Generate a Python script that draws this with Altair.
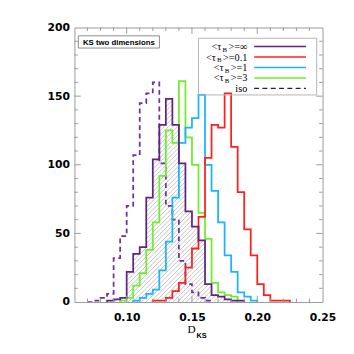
import altair as alt
import pandas as pd

# ---------------- data ----------------
BIN_WIDTH = 0.005
X_DOMAIN = [0.06, 0.25]
Y_DOMAIN = [0, 200]
X_LABELS = [0.10, 0.15, 0.20, 0.25]
Y_LABELS = [0, 50, 100, 150, 200]
X_MINOR = [0.07, 0.08, 0.09, 0.11, 0.12, 0.13, 0.14, 0.16, 0.17, 0.18, 0.19, 0.21, 0.22, 0.23, 0.24]
X_MAJOR = [0.10, 0.15, 0.20]
Y_MINOR = [10, 20, 30, 40, 60, 70, 80, 90, 110, 120, 130, 140, 160, 170, 180, 190]
Y_MAJOR = [50, 100, 150]

iso_start = 0.070
iso_counts = [0, 1, 3, 6, 32, 48, 70, 107, 145, 152, 160, 101, 70, 60, 30, 13, 7, 3, 1]
inf_start = 0.085
inf_counts = [1, 2, 3, 22, 35, 40, 76, 104, 129, 148, 129, 101, 66, 55, 45, 13, 5, 4, 2, 1, 1]
tau01_start = 0.120
tau01_counts = [1, 1, 3, 8, 14, 25, 39, 62, 105, 129, 127, 152, 113, 80, 53, 34, 13, 5, 1, 1, 1]
tau1_start = 0.105
tau1_counts = [1, 3, 6, 9, 23, 44, 76, 116, 127, 134, 151, 100, 81, 58, 34, 22, 7, 4, 1]
tau3_start = 0.095
tau3_counts = [1, 3, 12, 21, 38, 58, 92, 125, 116, 161, 120, 100, 65, 46, 14, 7, 5, 4]

legend_values = ["∞", "0.1", "1", "3"]
legend_colors = ["#5f2580", "#ff1f1f", "#1ab4ff", "#6cf02a"]
iso_label = "iso"
box_label = "KS two dimensions"

# ---------------- layout ----------------
W, H = 254, 281
PURPLE = "#5f2580"
PURPLE_DASH = "#7030a0"
AXIS_GRAY = "#9a9a9a"

xs = alt.Scale(domain=X_DOMAIN, nice=False, zero=False)
ys = alt.Scale(domain=Y_DOMAIN, nice=False, zero=False)
x_axis = alt.Axis(values=X_LABELS, format=".2f", title=None, ticks=False, domain=False,
                  grid=False, labelFont="DejaVu Sans", labelFontWeight="bold",
                  labelFontSize=11, labelColor="black", labelPadding=10,
                  labelFlush=False, labelOverlap=False)
y_axis = alt.Axis(values=Y_LABELS, format="d", title=None, ticks=False, domain=False,
                  grid=False, labelFont="DejaVu Sans", labelFontWeight="bold",
                  labelFontSize=11, labelColor="black", labelPadding=5,
                  labelFlush=False, labelOverlap=False)


def X(f):
    return alt.X(f, type="quantitative", scale=xs, axis=x_axis)


def Y(f):
    return alt.Y(f, type="quantitative", scale=ys, axis=y_axis)


def outline(start, counts):
    rows = [dict(x=start, y=0, o=0)]
    k = 1
    for i, c in enumerate(counts):
        x0 = round(start + i * BIN_WIDTH, 5)
        rows.append(dict(x=x0, y=c, o=k)); k += 1
        rows.append(dict(x=round(x0 + BIN_WIDTH, 5), y=c, o=k)); k += 1
    rows.append(dict(x=round(start + len(counts) * BIN_WIDTH, 5), y=0, o=k))
    return pd.DataFrame(rows)


def line_layer(start, counts, color, dash=None):
    kw = dict(color=color, strokeWidth=1.8, interpolate="linear", strokeJoin="miter", clip=True)
    if dash:
        kw["strokeDash"] = dash
    return alt.Chart(outline(start, counts)).mark_line(**kw).encode(
        x=X("x"), y=Y("y"), order=alt.Order("o:Q"))


# hatching under the <tau_B>=inf histogram (45 degree lines clipped to the bars)
sx = W / (X_DOMAIN[1] - X_DOMAIN[0])
sy = H / (Y_DOMAIN[1] - Y_DOMAIN[0])
HATCH_STEP = 4.6
segs = []
c = -float(H)
while c < W:
    for i, cnt in enumerate(inf_counts):
        u0 = (inf_start + i * BIN_WIDTH - X_DOMAIN[0]) * sx
        u1 = u0 + BIN_WIDTH * sx
        h = cnt * sy
        a = max(u0, c)
        b = min(u1, c + h)
        if b > a:
            segs.append(dict(x=X_DOMAIN[0] + a / sx, y=(a - c) / sy,
                             x2=X_DOMAIN[0] + b / sx, y2=(b - c) / sy))
    c += HATCH_STEP
hatch = alt.Chart(pd.DataFrame(segs)).mark_rule(color="#a8a8a8", strokeWidth=0.7).encode(
    x=X("x"), y=Y("y"), x2=alt.X2("x2"), y2=alt.Y2("y2"))

layers = [hatch,
          line_layer(iso_start, iso_counts, PURPLE_DASH, [5, 3.5]),
          line_layer(tau3_start, tau3_counts, legend_colors[3]),
          line_layer(tau1_start, tau1_counts, legend_colors[2]),
          line_layer(tau01_start, tau01_counts, legend_colors[1]),
          line_layer(inf_start, inf_counts, PURPLE)]

# inward ticks on all four sides
def xticks(vals, length):
    df = pd.DataFrame({"v": vals})
    base = alt.Chart(df).mark_rule(color=AXIS_GRAY, strokeWidth=1)
    return [base.encode(x=X("v"), y=alt.value(H), y2=alt.value(H - length)),
            base.encode(x=X("v"), y=alt.value(0), y2=alt.value(length))]


def yticks(vals, length):
    df = pd.DataFrame({"v": vals})
    base = alt.Chart(df).mark_rule(color=AXIS_GRAY, strokeWidth=1)
    return [base.encode(y=Y("v"), x=alt.value(0), x2=alt.value(length)),
            base.encode(y=Y("v"), x=alt.value(W), x2=alt.value(W - length))]


layers += xticks(X_MINOR, 3.5) + xticks(X_MAJOR, 6.5)
layers += yticks(Y_MINOR, 3.5) + yticks(Y_MAJOR, 6.5)

one = pd.DataFrame({"a": [0]})


def text(t, x, y, align="left", font="Liberation Serif", size=10.5, weight="normal"):
    return alt.Chart(one).mark_text(text=t, align=align, baseline="alphabetic", font=font,
                                    fontSize=size, fontWeight=weight, color="black").encode(
        x=alt.value(x), y=alt.value(y))


# "KS two dimensions" box
layers.append(alt.Chart(one).mark_rect(fill="white", fillOpacity=0, stroke="#8c8c8c",
                                       strokeWidth=1).encode(
    x=alt.value(4), x2=alt.value(87), y=alt.value(8.5), y2=alt.value(21)))
layers.append(text(box_label, 45.5, 17.8, align="center", font="Liberation Sans",
                   size=8, weight="bold"))

# legend box
layers.append(alt.Chart(one).mark_rect(fill="white", fillOpacity=0, stroke="#b4b4b4",
                                       strokeWidth=1).encode(
    x=alt.value(127), x2=alt.value(248), y=alt.value(11), y2=alt.value(69)))

FS = 10.5
SUB = 7
GAP = 1.3
EM = {"<": 0.564, ">": 0.564, "=": 0.564, "∞": 0.713, "0": 0.5, "1": 0.5, "3": 0.5, ".": 0.25}
TEXT_RIGHT = 177
ROW0 = 19.5
ROW_STEP = 10.7
for i, (val, col) in enumerate(zip(legend_values, legend_colors)):
    yc = ROW0 + i * ROW_STEP
    tail = ">=" + val
    w_tail = sum(EM[ch] for ch in tail) * FS
    w_b = 0.667 * SUB
    layers.append(text(tail, TEXT_RIGHT, yc + 3.6, align="right", size=FS))
    layers.append(text("B", TEXT_RIGHT - w_tail - GAP, yc + 5.3, align="right", size=SUB))
    layers.append(text("<τ", TEXT_RIGHT - w_tail - w_b - 2 * GAP, yc + 3.6, align="right", size=FS))
    layers.append(alt.Chart(one).mark_rule(color=col, strokeWidth=1.5).encode(
        x=alt.value(184), x2=alt.value(237), y=alt.value(yc)))
yc = ROW0 + 4 * ROW_STEP
layers.append(text(iso_label, TEXT_RIGHT, yc + 3.6, align="right", size=FS))
layers.append(alt.Chart(one).mark_rule(color="#222222", strokeWidth=1.2, strokeDash=[5, 3.5]).encode(
    x=alt.value(184), x2=alt.value(237), y=alt.value(yc)))

# x title D_KS
layers.append(text("D", 120, 312.5, align="center", size=11.5))
layers.append(text("KS", 125, 317.5, align="left", font="Liberation Sans", size=7.5, weight="bold"))

chart = alt.layer(*layers).properties(
    width=W, height=H,
    autosize=alt.AutoSizeParams(type="none"),
    padding={"left": 68, "top": 16, "right": 24, "bottom": 40},
    background="white",
).configure_view(stroke=AXIS_GRAY, strokeWidth=1)

chart.save("out.html", embed_options={"renderer": "svg", "actions": False})
